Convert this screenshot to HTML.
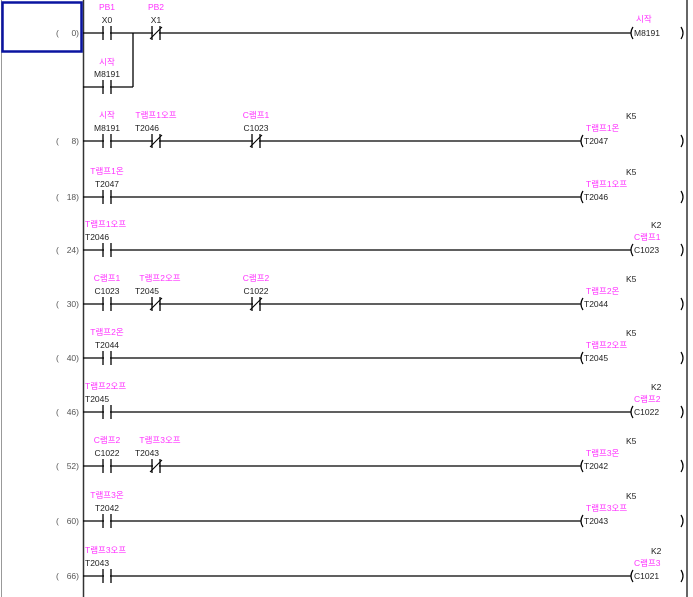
<!DOCTYPE html>
<html><head><meta charset="utf-8"><style>
html,body{margin:0;padding:0;background:#fff;width:693px;height:597px;overflow:hidden}
svg{display:block}
text{font-family:"Liberation Sans","Noto Sans CJK KR",sans-serif;font-size:8.5px}
.d{fill:#222}
.c{fill:#ff33ff}
.s{fill:#555}
</style></head><body>
<svg width="693" height="597" viewBox="0 0 693 597" xmlns="http://www.w3.org/2000/svg">
<defs>
<g id="no"><rect x="-3" y="-2" width="6" height="4" fill="#fff"/><line x1="-4" y1="-7" x2="-4" y2="7" stroke="#000" stroke-width="1.3"/><line x1="4" y1="-7" x2="4" y2="7" stroke="#000" stroke-width="1.3"/></g>
<g id="nc"><use href="#no"/><line x1="-6" y1="6" x2="6" y2="-6" stroke="#000" stroke-width="1.1"/></g>
<g id="cl"><path d="M3,-6 Q-1,0 3,6" fill="none" stroke="#000" stroke-width="1.2"/></g>
<g id="cr"><path d="M-3,-6 Q1,0 -3,6" fill="none" stroke="#000" stroke-width="1.2"/></g>
</defs>
<line x1="1.5" y1="0" x2="1.5" y2="597" stroke="#999" stroke-width="1"/>
<line x1="83.5" y1="0" x2="83.5" y2="597" stroke="#333" stroke-width="1.5"/>
<line x1="687" y1="0" x2="687" y2="597" stroke="#333" stroke-width="1.5"/>
<rect x="2.5" y="2.5" width="79" height="49" fill="none" stroke="#0a14a0" stroke-width="2.5"/>

<g class="s">
<text x="56" y="36">(</text><text x="79" y="36" text-anchor="end">0)</text>
<text x="56" y="144">(</text><text x="79" y="144" text-anchor="end">8)</text>
<text x="56" y="200">(</text><text x="79" y="200" text-anchor="end">18)</text>
<text x="56" y="253">(</text><text x="79" y="253" text-anchor="end">24)</text>
<text x="56" y="307">(</text><text x="79" y="307" text-anchor="end">30)</text>
<text x="56" y="361">(</text><text x="79" y="361" text-anchor="end">40)</text>
<text x="56" y="415">(</text><text x="79" y="415" text-anchor="end">46)</text>
<text x="56" y="469">(</text><text x="79" y="469" text-anchor="end">52)</text>
<text x="56" y="524">(</text><text x="79" y="524" text-anchor="end">60)</text>
<text x="56" y="579">(</text><text x="79" y="579" text-anchor="end">66)</text>
</g>

<g stroke="#000" stroke-width="1.3">
<line x1="83" y1="33" x2="631" y2="33"/>
<line x1="83" y1="87" x2="133" y2="87"/>
<line x1="133" y1="33" x2="133" y2="87"/>
<line x1="83" y1="141" x2="581" y2="141"/>
<line x1="83" y1="197" x2="581" y2="197"/>
<line x1="83" y1="250" x2="631" y2="250"/>
<line x1="83" y1="304" x2="581" y2="304"/>
<line x1="83" y1="358" x2="581" y2="358"/>
<line x1="83" y1="412" x2="631" y2="412"/>
<line x1="83" y1="466" x2="581" y2="466"/>
<line x1="83" y1="521" x2="581" y2="521"/>
<line x1="83" y1="576" x2="631" y2="576"/>
</g>

<use href="#no" x="107" y="33"/><use href="#nc" x="156" y="33"/>
<use href="#no" x="107" y="87"/>
<use href="#no" x="107" y="141"/><use href="#nc" x="156" y="141"/><use href="#nc" x="256" y="141"/>
<use href="#no" x="107" y="197"/>
<use href="#no" x="107" y="250"/>
<use href="#no" x="107" y="304"/><use href="#nc" x="156" y="304"/><use href="#nc" x="256" y="304"/>
<use href="#no" x="107" y="358"/>
<use href="#no" x="107" y="412"/>
<use href="#no" x="107" y="466"/><use href="#nc" x="156" y="466"/>
<use href="#no" x="107" y="521"/>
<use href="#no" x="107" y="576"/>

<use href="#cl" x="630" y="33"/><use href="#cr" x="684" y="33"/>
<use href="#cl" x="580" y="141"/><use href="#cr" x="684" y="141"/>
<use href="#cl" x="580" y="197"/><use href="#cr" x="684" y="197"/>
<use href="#cl" x="630" y="250"/><use href="#cr" x="684" y="250"/>
<use href="#cl" x="580" y="304"/><use href="#cr" x="684" y="304"/>
<use href="#cl" x="580" y="358"/><use href="#cr" x="684" y="358"/>
<use href="#cl" x="630" y="412"/><use href="#cr" x="684" y="412"/>
<use href="#cl" x="580" y="466"/><use href="#cr" x="684" y="466"/>
<use href="#cl" x="580" y="521"/><use href="#cr" x="684" y="521"/>
<use href="#cl" x="630" y="576"/><use href="#cr" x="684" y="576"/>

<g text-anchor="middle">
<text class="c" x="107" y="10">PB1</text><text class="d" x="107" y="23">X0</text>
<text class="c" x="156" y="10">PB2</text><text class="d" x="156" y="23">X1</text>
<text class="c" x="107" y="65">시작</text><text class="d" x="107" y="77">M8191</text>
<text class="c" x="107" y="118">시작</text><text class="d" x="107" y="131">M8191</text>
<text class="c" x="156" y="118">T램프1오프</text><text class="d" x="147" y="131">T2046</text>
<text class="c" x="256" y="118">C램프1</text><text class="d" x="256" y="131">C1023</text>
<text class="c" x="107" y="174">T램프1온</text><text class="d" x="107" y="187">T2047</text>
<text class="c" x="107" y="281">C램프1</text><text class="d" x="107" y="294">C1023</text>
<text class="c" x="160" y="281">T램프2오프</text><text class="d" x="147" y="294">T2045</text>
<text class="c" x="256" y="281">C램프2</text><text class="d" x="256" y="294">C1022</text>
<text class="c" x="107" y="335">T램프2온</text><text class="d" x="107" y="348">T2044</text>
<text class="c" x="107" y="443">C램프2</text><text class="d" x="107" y="456">C1022</text>
<text class="c" x="160" y="443">T램프3오프</text><text class="d" x="147" y="456">T2043</text>
<text class="c" x="107" y="498">T램프3온</text><text class="d" x="107" y="511">T2042</text>
</g>
<text class="c" x="85" y="227">T램프1오프</text><text class="d" x="85" y="240">T2046</text>
<text class="c" x="85" y="389">T램프2오프</text><text class="d" x="85" y="402">T2045</text>
<text class="c" x="85" y="553">T램프3오프</text><text class="d" x="85" y="566">T2043</text>

<text class="c" x="636" y="22">시작</text><text class="d" x="634" y="36">M8191</text>
<text class="d" x="626" y="119">K5</text><text class="c" x="586" y="131">T램프1온</text><text class="d" x="584" y="144">T2047</text>
<text class="d" x="626" y="175">K5</text><text class="c" x="586" y="187">T램프1오프</text><text class="d" x="584" y="200">T2046</text>
<text class="d" x="651" y="228">K2</text><text class="c" x="634" y="240">C램프1</text><text class="d" x="634" y="253">C1023</text>
<text class="d" x="626" y="282">K5</text><text class="c" x="586" y="294">T램프2온</text><text class="d" x="584" y="307">T2044</text>
<text class="d" x="626" y="336">K5</text><text class="c" x="586" y="348">T램프2오프</text><text class="d" x="584" y="361">T2045</text>
<text class="d" x="651" y="390">K2</text><text class="c" x="634" y="402">C램프2</text><text class="d" x="634" y="415">C1022</text>
<text class="d" x="626" y="444">K5</text><text class="c" x="586" y="456">T램프3온</text><text class="d" x="584" y="469">T2042</text>
<text class="d" x="626" y="499">K5</text><text class="c" x="586" y="511">T램프3오프</text><text class="d" x="584" y="524">T2043</text>
<text class="d" x="651" y="554">K2</text><text class="c" x="634" y="566">C램프3</text><text class="d" x="634" y="579">C1021</text>
</svg>
</body></html>
